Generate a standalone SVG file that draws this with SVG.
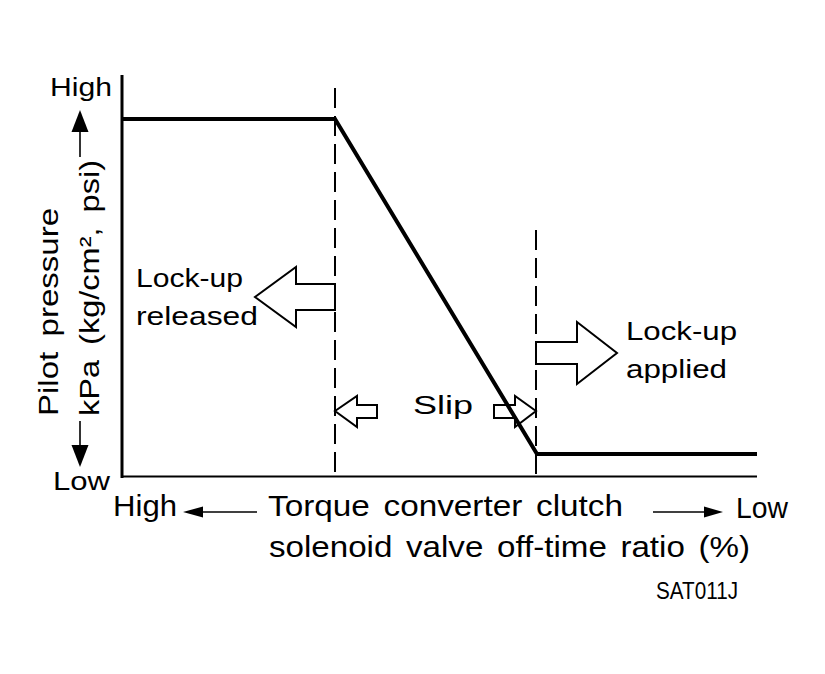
<svg xmlns="http://www.w3.org/2000/svg" width="825" height="674" viewBox="0 0 825 674">
<style>
  text { font-family: "Liberation Sans", Arial, sans-serif; fill: #000; }
  .lbl { font-size: 26px; }
  .rot { font-size: 27px; word-spacing: 5px; }
  .big { font-size: 30px; word-spacing: 4px; }
  .axis { stroke: #000; fill: none; }
  .curve { stroke: #000; stroke-width: 4; fill: none; stroke-linejoin: miter; }
  .dash { stroke: #000; stroke-width: 2; stroke-dasharray: 20 8; fill: none; }
  .hollow { fill: #fff; stroke: #000; stroke-width: 2; stroke-linejoin: miter; }
  .thin { stroke: #000; stroke-width: 1.6; fill: none; }
</style>
<rect x="0" y="0" width="825" height="674" fill="#fff"/>

<g id="axes">
  <line class="axis" x1="122" y1="75" x2="122" y2="478" stroke-width="3"/>
  <line class="axis" x1="121" y1="476.5" x2="757" y2="476.5" stroke-width="2"/>
</g>

<g id="guides">
  <line class="dash" x1="335" y1="88" x2="335" y2="477"/>
  <line class="dash" x1="536" y1="230" x2="536" y2="477"/>
</g>

<g id="region-arrows">
  <polygon id="released-arrow" class="hollow" points="335,284 296,284 296,267 255,297 296,327 296,310 335,310"/>
  <polygon id="applied-arrow" class="hollow" points="536,342 577,342 577,322 617,353 577,384 577,364 536,364"/>
  <polygon id="slip-left-arrow" class="hollow" points="335,411 357,396 357,405 377,405 377,418 357,418 357,427"/>
  <polygon id="slip-right-arrow" class="hollow" points="536,411 515,396 515,405 494,405 494,418 515,418 515,427"/>
</g>

<g id="curve">
  <polyline class="curve" points="122,119 335,119 537,454 757,454"/>
</g>

<g id="y-axis-label">
  <text class="lbl" x="50" y="96" textLength="62" lengthAdjust="spacingAndGlyphs">High</text>
  <text class="lbl" x="53" y="490" textLength="57" lengthAdjust="spacingAndGlyphs">Low</text>
  <text class="rot" transform="translate(58,416) rotate(-90)" x="0" y="0" textLength="208" lengthAdjust="spacingAndGlyphs">Pilot pressure</text>
  <text class="rot" transform="translate(99,416) rotate(-90)" x="0" y="0" textLength="256" lengthAdjust="spacingAndGlyphs">kPa (kg/cm², psi)</text>
</g>

<g id="connectors">
  <g id="y-up-arrow">
    <line class="thin" x1="80" y1="157" x2="80" y2="130"/>
    <polygon points="80,110 71.5,132 88.5,132" fill="#000"/>
  </g>
  <g id="y-down-arrow">
    <line class="thin" x1="80" y1="421" x2="80" y2="447"/>
    <polygon points="80,467 71.5,445 88.5,445" fill="#000"/>
  </g>
  <g id="x-left-arrow">
    <line class="thin" x1="200" y1="512" x2="257" y2="512"/>
    <polygon points="183,512 203,506.5 203,517.5" fill="#000"/>
  </g>
  <g id="x-right-arrow">
    <line class="thin" x1="653" y1="512" x2="707" y2="512"/>
    <polygon points="723,512 704,506.5 704,517.5" fill="#000"/>
  </g>
</g>

<g id="label-released">
  <text class="lbl" x="136" y="287" textLength="107" lengthAdjust="spacingAndGlyphs">Lock-up</text>
  <text class="lbl" x="136" y="325" textLength="122" lengthAdjust="spacingAndGlyphs">released</text>
</g>

<g id="label-applied">
  <text class="lbl" x="626" y="340" textLength="111" lengthAdjust="spacingAndGlyphs">Lock-up</text>
  <text class="lbl" x="626" y="378" textLength="101" lengthAdjust="spacingAndGlyphs">applied</text>
</g>

<g id="label-slip">
  <text class="lbl" x="413" y="414" textLength="60" lengthAdjust="spacingAndGlyphs">Slip</text>
</g>

<g id="x-axis-label">
  <text class="big" x="113" y="516" textLength="64" lengthAdjust="spacingAndGlyphs">High</text>
  <text class="big" x="268" y="516" textLength="355" lengthAdjust="spacingAndGlyphs">Torque converter clutch</text>
  <text class="big" x="736" y="518" textLength="52" lengthAdjust="spacingAndGlyphs">Low</text>
  <text class="big" x="269" y="557" textLength="481" lengthAdjust="spacingAndGlyphs">solenoid valve off-time ratio (%)</text>
</g>

<g id="figure-code">
  <text x="656" y="599" font-size="23" textLength="82" lengthAdjust="spacingAndGlyphs">SAT011J</text>
</g>
</svg>
